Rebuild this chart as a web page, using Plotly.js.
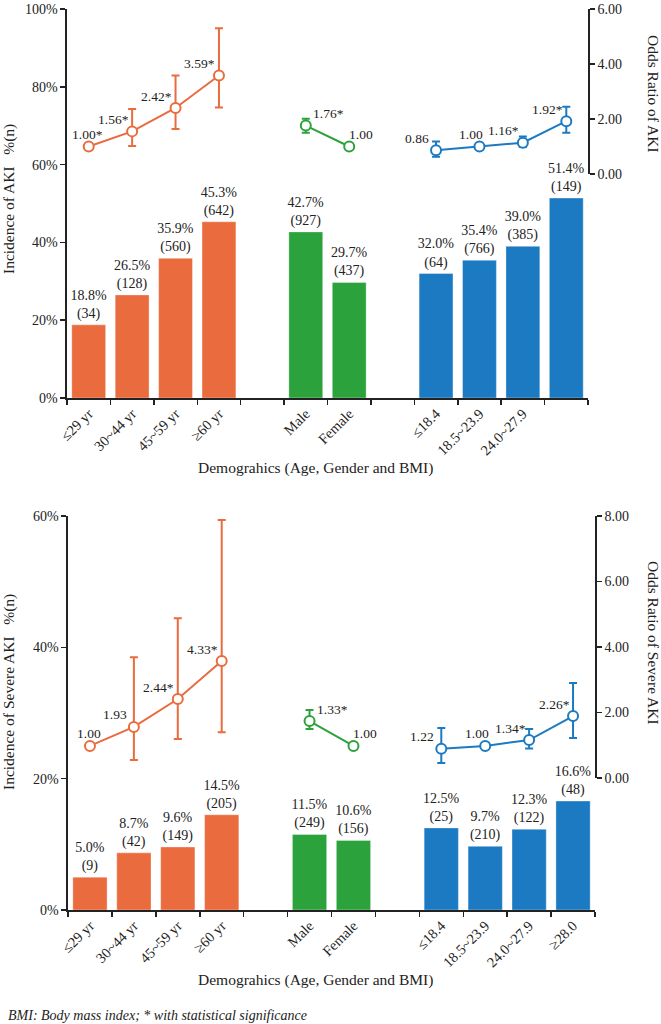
<!DOCTYPE html>
<html><head><meta charset="utf-8">
<script src="https://cdn.plot.ly/plotly-3.0.1.min.js"></script>
<style>html,body{margin:0;padding:0;background:#fff}#chart{width:661px;height:1024px}</style>
</head><body><div id="chart"></div>
<script>
// ---------- data ----------
const categories = ['≤29 yr','30~44 yr','45~59 yr','≥60 yr','Male','Female','≤18.4','18.5~23.9','24.0~27.9','≥28.0'];
const topTickLabels = ['≤29 yr','30~44 yr','45~59 yr','≥60 yr','Male','Female','≤18.4','18.5~23.9','24.0~27.9',''];
const bottomTickLabels = ['≤29 yr','30~44 yr','45~59 yr','≥60 yr','Male','Female','≤18.4','18.5~23.9','24.0~27.9','≥28.0'];

// AKI (top panel)
const akiPct = [18.8, 26.5, 35.9, 45.3, 42.7, 29.7, 32.0, 35.4, 39.0, 51.4];
const akiN = [34, 128, 560, 642, 927, 437, 64, 766, 385, 149];
const akiOR = [1.00, 1.55, 2.40, 3.58, 1.76, 1.00, 0.86, 1.00, 1.14, 1.92];
const akiORLabel = ['1.00*','1.56*','2.42*','3.59*','1.76*','1.00','0.86','1.00','1.16*','1.92*'];
const akiORLow = [null, 1.02, 1.64, 2.42, 1.50, null, 0.63, null, 0.98, 1.50];
const akiORHigh = [null, 2.36, 3.58, 5.30, 2.01, null, 1.18, null, 1.36, 2.45];

// Severe AKI (bottom panel)
const sevPct = [5.0, 8.7, 9.6, 14.5, 11.5, 10.6, 12.5, 9.7, 12.3, 16.6];
const sevN = [9, 42, 149, 205, 249, 156, 25, 210, 122, 48];
const sevOR = [0.98, 1.56, 2.41, 3.57, 1.74, 0.98, 0.89, 0.98, 1.16, 1.89];
const sevORLabel = ['1.00','1.93','2.44*','4.33*','1.33*','1.00','1.22','1.00','1.34*','2.26*'];
const sevORLow = [null, 0.55, 1.19, 1.40, 1.50, null, 0.46, null, 0.90, 1.22];
const sevORHigh = [null, 3.69, 4.88, 7.88, 2.08, null, 1.53, null, 1.50, 2.90];

// ---------- layout helpers ----------
const W = 661, H = 1024;
const px = v => v / W, py = v => 1 - v / H;
const FONT = 'Liberation Serif, Times New Roman, serif';
const TXT = '#222';

const groups = [
  {idx:[0,1,2,3], color:'#EA6B3E', errShift:-19, plainShift:-1},
  {idx:[4,5], color:'#2CA23C', errShift:23, plainShift:12},
  {idx:[6,7,8,9], color:'#1C7AC2', errShift:-19, plainShift:-8}
];
// category keys with two blank spacer slots between groups
const keys = [...categories.slice(0,4), ' ', ...categories.slice(4,6), '  ', ...categories.slice(6)];
const withGaps = arr => [...arr.slice(0,4), '', ...arr.slice(4,6), '', ...arr.slice(6)];

const panels = [
  {xa:'x', ya:'y', ya2:'y2', pct:akiPct, n:akiN, or:akiOR, lab:akiORLabel, lo:akiORLow, hi:akiORHigh},
  {xa:'x2', ya:'y3', ya2:'y4', pct:sevPct, n:sevN, or:sevOR, lab:sevORLabel, lo:sevORLow, hi:sevORHigh}
];

const traces = [];
const annotations = [];
panels.forEach(p => {
  groups.forEach(g => {
    traces.push({
      type:'bar', xaxis:p.xa, yaxis:p.ya,
      x:g.idx.map(i => categories[i]), y:g.idx.map(i => p.pct[i]),
      text:g.idx.map(i => p.pct[i].toFixed(1) + '%<br>(' + p.n[i] + ')'),
      textposition:'outside', constraintext:'none', cliponaxis:false,
      textfont:{family:FONT, size:14, color:TXT},
      marker:{color:g.color, line:{color:'rgba(255,255,255,0.35)', width:1}},
      hoverinfo:'skip'
    });
    traces.push({
      type:'scatter', mode:'lines+markers', xaxis:p.xa, yaxis:p.ya2,
      x:g.idx.map(i => categories[i]), y:g.idx.map(i => p.or[i]),
      line:{color:g.color, width:2},
      marker:{symbol:'circle', size:10, color:'#fff', line:{color:g.color, width:2}},
      error_y:{type:'data', symmetric:false, color:g.color, thickness:2, width:4,
        array:g.idx.map(i => p.hi[i] == null ? 0 : p.hi[i] - p.or[i]),
        arrayminus:g.idx.map(i => p.lo[i] == null ? 0 : p.or[i] - p.lo[i])},
      cliponaxis:false, hoverinfo:'skip'
    });
    g.idx.forEach(i => {
      annotations.push({
        xref:p.xa, yref:p.ya2, x:categories[i], y:p.or[i], text:p.lab[i], showarrow:false,
        xanchor:'center', yanchor:'middle',
        xshift:(p.hi[i] == null ? g.plainShift : g.errShift), yshift:12,
        font:{family:FONT, size:13.5, color:TXT}
      });
    });
  });
});

const titleFont = {family:FONT, size:15.5, color:TXT};
[
  {x:9, y:199, a:-90, t:'Incidence of AKI\u00A0\u00A0\u00A0%(n)'},
  {x:654, y:94, a:90, t:'Odds Ratio of AKI'},
  {x:315, y:468, a:0, t:'Demograhics (Age, Gender and BMI)'},
  {x:9, y:692, a:-90, t:'Incidence of Severe AKI\u00A0\u00A0\u00A0%(n)'},
  {x:654, y:643, a:90, t:'Odds Ratio of Severe AKI'},
  {x:315, y:980, a:0, t:'Demograhics (Age, Gender and BMI)'}
].forEach(o => annotations.push({xref:'paper', yref:'paper', x:px(o.x), y:py(o.y), text:o.t,
  textangle:o.a, showarrow:false, xanchor:'center', yanchor:'middle', font:titleFont}));
annotations.push({xref:'paper', yref:'paper', x:px(6), y:py(1015), xanchor:'left', yanchor:'middle',
  showarrow:false, text:'<i>BMI: Body mass index; * with statistical significance</i>',
  font:{family:FONT, size:14, color:TXT}});

const axCommon = {showline:true, linecolor:'#222', linewidth:1.6, ticks:'outside', ticklen:5,
  tickcolor:'#222', tickwidth:1.5, showgrid:false, zeroline:false, ticklabeloverflow:'allow',
  tickfont:{family:FONT, size:14, color:TXT}, fixedrange:true};
const xAxis = (dom, anchor, labels) => Object.assign({}, axCommon, {
  domain:dom, anchor:anchor, type:'category', categoryorder:'array', categoryarray:keys,
  range:[-0.5, keys.length - 0.5], tickson:'boundaries', tickmode:'array',
  tickvals:keys, ticktext:withGaps(labels), tickangle:-45,
  tickfont:{family:FONT, size:14.5, color:TXT}
});

const layout = {
  width:W, height:H, margin:{l:0, r:0, t:0, b:0},
  paper_bgcolor:'#fff', plot_bgcolor:'rgba(0,0,0,0)',
  showlegend:false, barmode:'overlay', bargap:0.22,
  font:{family:FONT, color:TXT},
  xaxis:xAxis([px(67), px(588)], 'y', topTickLabels),
  yaxis:Object.assign({}, axCommon, {domain:[py(398), py(9)], anchor:'x', range:[0,100], dtick:20, ticksuffix:'%'}),
  yaxis2:Object.assign({}, axCommon, {domain:[py(174), py(9)], anchor:'x', side:'right', range:[0,6], dtick:2, tickformat:'.2f'}),
  xaxis2:xAxis([px(68), px(595)], 'y3', bottomTickLabels),
  yaxis3:Object.assign({}, axCommon, {domain:[py(910), py(516)], anchor:'x2', range:[0,60], dtick:20, ticksuffix:'%'}),
  yaxis4:Object.assign({}, axCommon, {domain:[py(778), py(516)], anchor:'x2', side:'right', range:[0,8], dtick:2, tickformat:'.2f'}),
  annotations:annotations
};

Plotly.newPlot('chart', traces, layout, {displayModeBar:false, staticPlot:true});
</script>
</body></html>
